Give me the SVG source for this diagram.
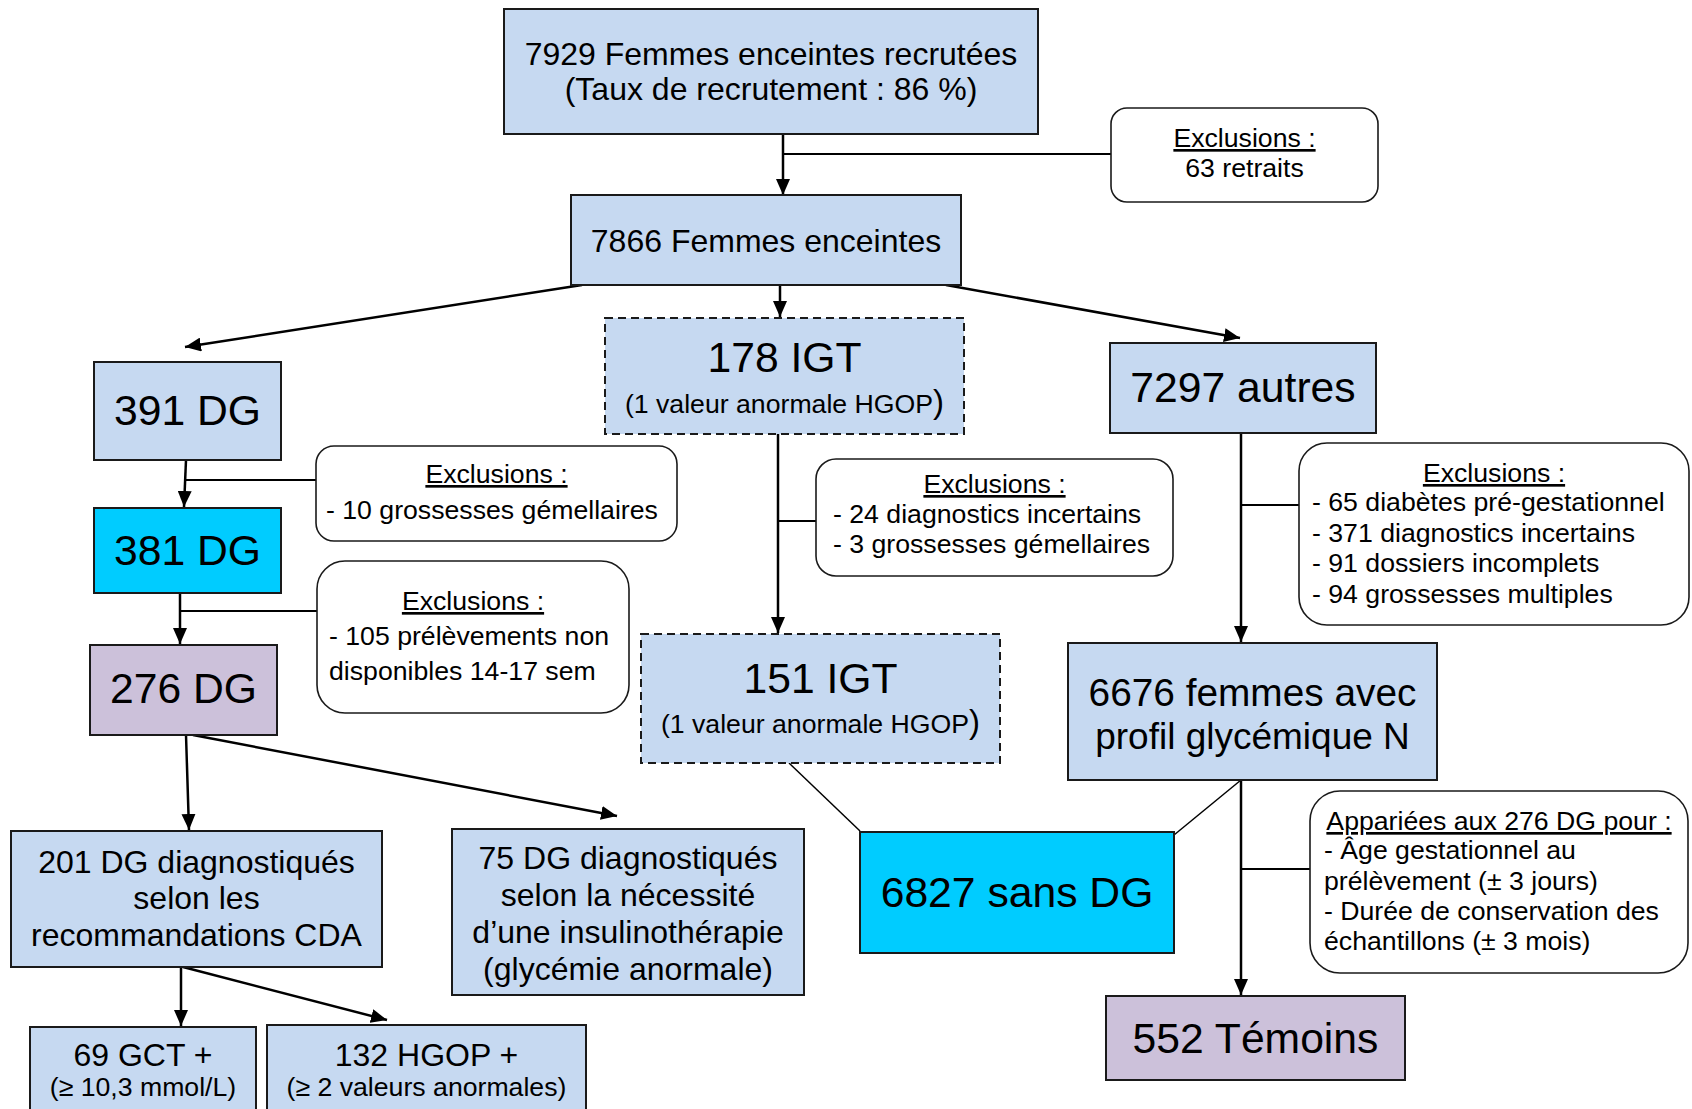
<svg xmlns="http://www.w3.org/2000/svg" width="1692" height="1109" viewBox="0 0 1692 1109">
<style>
text{font-family:"Liberation Sans",Arial,sans-serif;fill:#000}
.box{stroke:#1a1a1a;stroke-width:2}
.blue{fill:#C6D9F1}
.cyan{fill:#00CCFF}
.mauve{fill:#CCC1DA}
.dash{stroke-dasharray:8 5}
.ex{fill:#fff;stroke:#1a1a1a;stroke-width:1.6}
.c{text-anchor:middle}
.f32{font-size:32px}
.f42{font-size:42.67px}
.f26{font-size:26.67px}
.u{text-decoration:underline}
.arr{stroke:#000;stroke-width:2.5;fill:none;marker-end:url(#ah)}
.ln{stroke:#000;stroke-width:2;fill:none}
.thin{stroke:#000;stroke-width:1.5;fill:none}
</style>
<defs>
<marker id="ah" markerUnits="userSpaceOnUse" markerWidth="16" markerHeight="14" refX="16" refY="7" orient="auto">
<path d="M0,0 L16,7 L0,14 z" fill="#000"/>
</marker>
</defs>
<rect width="1692" height="1109" fill="#fff"/>

<g id="connectors">
<line class="arr" x1="783" y1="134" x2="783" y2="195"/>
<line class="ln" x1="783" y1="154" x2="1111" y2="154"/>
<line class="arr" x1="582" y1="285" x2="185" y2="347"/>
<line class="arr" x1="780" y1="285" x2="780" y2="317"/>
<line class="arr" x1="946" y1="285" x2="1240" y2="338"/>
<line class="arr" x1="186" y1="460" x2="184" y2="507"/>
<line class="ln" x1="186" y1="480" x2="316" y2="480"/>
<line class="arr" x1="180" y1="593" x2="180" y2="644"/>
<line class="ln" x1="180" y1="611" x2="317" y2="611"/>
<line class="arr" x1="778" y1="434" x2="778" y2="633"/>
<line class="ln" x1="778" y1="521" x2="816" y2="521"/>
<line class="arr" x1="1241" y1="433" x2="1241" y2="642"/>
<line class="ln" x1="1241" y1="505" x2="1299" y2="505"/>
<line class="arr" x1="186" y1="735" x2="189" y2="830"/>
<line class="arr" x1="193" y1="735" x2="617" y2="816"/>
<line class="arr" x1="181" y1="967" x2="181" y2="1026"/>
<line class="arr" x1="183" y1="967" x2="387" y2="1020"/>
<line class="thin" x1="789" y1="763" x2="860" y2="831"/>
<line class="thin" x1="1241" y1="780" x2="1174" y2="835"/>
<line class="arr" x1="1241" y1="780" x2="1241" y2="995"/>
<line class="ln" x1="1241" y1="869" x2="1310" y2="869"/>
</g>

<g id="n1">
<rect class="box blue" x="504" y="9" width="534" height="125"/>
<text class="c f32" x="771" y="65">7929 Femmes enceintes recrutées</text>
<text class="c f32" x="771" y="100">(Taux de recrutement : 86 %)</text>
</g>
<g id="ex1">
<rect class="ex" x="1111" y="108" width="267" height="94" rx="16"/>
<text class="c f26 u" x="1244.5" y="147">Exclusions :</text>
<text class="c f26" x="1244.5" y="177">63 retraits</text>
</g>
<g id="n2">
<rect class="box blue" x="571" y="195" width="390" height="90"/>
<text class="c f32" x="766" y="252">7866 Femmes enceintes</text>
</g>
<g id="n3">
<rect class="box blue" x="94" y="362" width="187" height="98"/>
<text class="c f42" x="187.5" y="425">391 DG</text>
</g>
<g id="n4">
<rect class="box blue dash" x="605" y="318" width="359" height="116"/>
<text class="c f42" x="784.5" y="372">178 IGT</text>
<text class="c f26" x="784.5" y="413">(1 valeur anormale HGOP<tspan font-size="33">)</tspan></text>
</g>
<g id="n5">
<rect class="box blue" x="1110" y="343" width="266" height="90"/>
<text class="c f42" x="1243" y="402">7297 autres</text>
</g>
<g id="ex2">
<rect class="ex" x="316" y="446" width="361" height="95" rx="18"/>
<text class="c f26 u" x="496.5" y="483">Exclusions :</text>
<text class="f26" x="326" y="519">- 10 grossesses gémellaires</text>
</g>
<g id="n6">
<rect class="box cyan" x="94" y="508" width="187" height="85"/>
<text class="c f42" x="187.5" y="565">381 DG</text>
</g>
<g id="ex3">
<rect class="ex" x="317" y="561" width="312" height="152" rx="28"/>
<text class="c f26 u" x="473" y="610">Exclusions :</text>
<text class="f26" x="329" y="645">- 105 prélèvements non</text>
<text class="f26" x="329" y="680">disponibles 14-17 sem</text>
</g>
<g id="ex4">
<rect class="ex" x="816" y="459" width="357" height="117" rx="20"/>
<text class="c f26 u" x="994.5" y="493">Exclusions :</text>
<text class="f26" x="833" y="523">- 24 diagnostics incertains</text>
<text class="f26" x="833" y="553">- 3 grossesses gémellaires</text>
</g>
<g id="ex5">
<rect class="ex" x="1299" y="443" width="390" height="182" rx="28"/>
<text class="c f26 u" x="1494" y="482">Exclusions :</text>
<text class="f26" x="1312" y="511">- 65 diabètes pré-gestationnel</text>
<text class="f26" x="1312" y="542">- 371 diagnostics incertains</text>
<text class="f26" x="1312" y="572">- 91 dossiers incomplets</text>
<text class="f26" x="1312" y="603">- 94 grossesses multiples</text>
</g>
<g id="n7">
<rect class="box mauve" x="90" y="645" width="187" height="90"/>
<text class="c f42" x="183.5" y="703">276 DG</text>
</g>
<g id="n8">
<rect class="box blue dash" x="641" y="634" width="359" height="129"/>
<text class="c f42" x="820.5" y="693">151 IGT</text>
<text class="c f26" x="820.5" y="733">(1 valeur anormale HGOP<tspan font-size="33">)</tspan></text>
</g>
<g id="n9">
<rect class="box blue" x="1068" y="643" width="369" height="137"/>
<text class="c" font-size="38.8" x="1252.5" y="706">6676 femmes avec</text>
<text class="c" font-size="37" x="1252.5" y="749">profil glycémique N</text>
</g>
<g id="n10">
<rect class="box blue" x="11" y="831" width="371" height="136"/>
<text class="c f32" x="196.5" y="873">201 DG diagnostiqués</text>
<text class="c f32" x="196.5" y="909">selon les</text>
<text class="c f32" x="196.5" y="946">recommandations CDA</text>
</g>
<g id="n11">
<rect class="box blue" x="452" y="829" width="352" height="166"/>
<text class="c f32" x="628" y="869">75 DG diagnostiqués</text>
<text class="c f32" x="628" y="906">selon la nécessité</text>
<text class="c f32" x="628" y="943">d’une insulinothérapie</text>
<text class="c f32" x="628" y="980">(glycémie anormale)</text>
</g>
<g id="n12">
<rect class="box cyan" x="860" y="832" width="314" height="121"/>
<text class="c f42" x="1017" y="907">6827 sans DG</text>
</g>
<g id="ex6">
<rect class="ex" x="1310" y="791" width="378" height="182" rx="30"/>
<text class="c f26 u" x="1499" y="830">Appariées aux 276 DG pour :</text>
<text class="f26" x="1324" y="859">- Âge gestationnel au</text>
<text class="f26" x="1324" y="890">prélèvement (± 3 jours)</text>
<text class="f26" x="1324" y="920">- Durée de conservation des</text>
<text class="f26" x="1324" y="950">échantillons (± 3 mois)</text>
</g>
<g id="n13">
<rect class="box mauve" x="1106" y="996" width="299" height="84"/>
<text class="c f42" x="1255.5" y="1053">552 Témoins</text>
</g>
<g id="n14">
<rect class="box blue" x="30" y="1027" width="226" height="100"/>
<text class="c f32" x="143" y="1066">69 GCT +</text>
<text class="c f26" x="143" y="1096">(≥ 10,3 mmol/L)</text>
</g>
<g id="n15">
<rect class="box blue" x="267" y="1025" width="319" height="100"/>
<text class="c f32" x="426.5" y="1066">132 HGOP +</text>
<text class="c f26" x="426.5" y="1096">(≥ 2 valeurs anormales)</text>
</g>
</svg>
